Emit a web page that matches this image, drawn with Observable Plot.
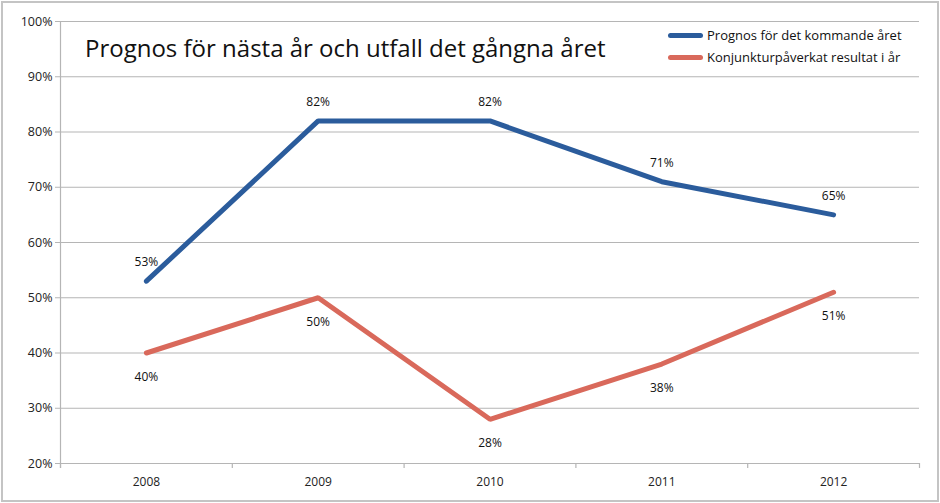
<!DOCTYPE html>
<html><head><meta charset="utf-8">
<script src="https://cdn.jsdelivr.net/npm/d3@7"></script>
<script src="https://cdn.jsdelivr.net/npm/@observablehq/plot@0.6"></script>
<style>
body{margin:0;background:#fff;font-family:"Open Sans",sans-serif;}
#wrap{position:relative;width:940px;height:503px;}
#wrap svg{display:block;}
#border{position:absolute;left:1px;top:1px;width:934px;height:497px;border:2px solid #c4c4c4;pointer-events:none;}
#title{position:absolute;left:85px;top:31px;font-size:24px;color:#111;white-space:nowrap;}
#legend{position:absolute;left:668px;top:24px;font-size:13px;color:#111;}
#legend div{display:flex;align-items:center;height:22px;}
#legend span.sw{display:inline-block;width:35px;height:5px;border-radius:3px;margin-right:4px;}
</style></head>
<body><div id="wrap"><div id="border"></div></div>
<script>
const years = [2008, 2009, 2010, 2011, 2012];
const prognos = [53, 82, 82, 71, 65];
const utfall = [40, 50, 28, 38, 51];
const seriesNames = ["Prognos för det kommande året", "Konjunkturpåverkat resultat i år"];
const colors = ["#2b5c9c", "#d9695b"];
const yTicks = [20, 30, 40, 50, 60, 70, 80, 90, 100];
const titleText = "Prognos för nästa år och utfall det gångna året";

const blue = years.map((y, i) => ({year: y, v: prognos[i]}));
const red = years.map((y, i) => ({year: y, v: utfall[i]}));
const bounds = [years[0] - 0.5, ...years.map(y => y + 0.5)];

const chart = Plot.plot({
  width: 940, height: 503,
  marginLeft: 60, marginRight: 21, marginTop: 21, marginBottom: 40,
  style: {fontFamily: "Open Sans, sans-serif", fontSize: "12px", color: "#222", background: "#fff"},
  x: {type: "linear", domain: [years[0] - 0.5, years[years.length - 1] + 0.5], label: null},
  y: {type: "linear", domain: [20, 100], label: null},
  marks: [
    Plot.ruleY(yTicks.slice(1), {stroke: "#b5b5b5", strokeWidth: 1}),
    Plot.ruleY([20], {stroke: "#b5b5b5", strokeWidth: 1.2}),
    Plot.ruleX(bounds, {x: d => d, y1: 20, y2: 19.1, stroke: "#b5b5b5", strokeWidth: 1.2, clip: false}),
    Plot.ruleX([years[0] - 0.5], {y1: 19.1, y2: 100, stroke: "#b5b5b5", strokeWidth: 1.2, clip: false}),
    Plot.axisY({ticks: yTicks, tickFormat: d => d + "%", tickSize: 5, stroke: "#b5b5b5", tickPadding: 3, fontSize: 12.5, fill: "#222", label: null}),
    Plot.axisX({ticks: years, tickFormat: d => String(d), tickSize: 0, tickPadding: 14, fontSize: 12, fill: "#222", label: null}),
    Plot.line(blue, {x: "year", y: "v", stroke: colors[0], strokeWidth: 5, strokeLinejoin: "miter"}),
    Plot.line(red, {x: "year", y: "v", stroke: colors[1], strokeWidth: 5, strokeLinejoin: "miter"}),
    Plot.text(blue, {x: "year", y: "v", text: d => d.v + "%", dy: -19, fontSize: 12, fill: "#111"}),
    Plot.text(red, {x: "year", y: "v", text: d => d.v + "%", dy: 24, fontSize: 12, fill: "#111"})
  ]
});
const wrap = document.getElementById("wrap");
wrap.insertBefore(chart, wrap.firstChild);

const t = document.createElement("div");
t.id = "title"; t.textContent = titleText; wrap.appendChild(t);
const lg = document.createElement("div");
lg.id = "legend";
seriesNames.forEach((n, i) => {
  const row = document.createElement("div");
  const sw = document.createElement("span"); sw.className = "sw"; sw.style.background = colors[i];
  row.appendChild(sw); row.appendChild(document.createTextNode(n));
  lg.appendChild(row);
});
wrap.appendChild(lg);
</script></body></html>
